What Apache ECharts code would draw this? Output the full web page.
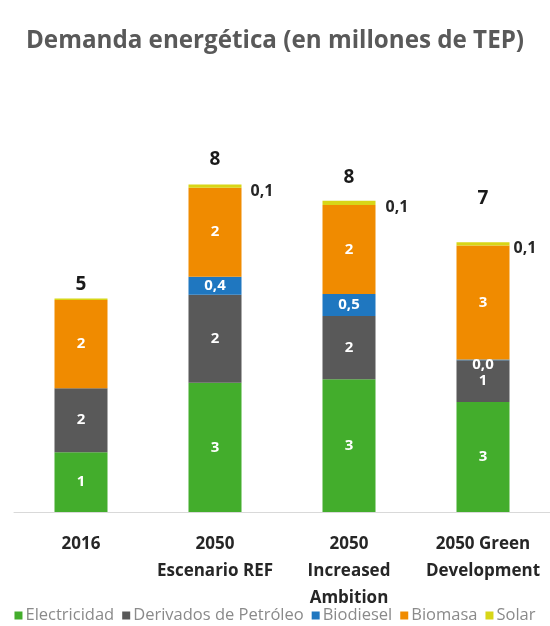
<!DOCTYPE html>
<html>
<head>
<meta charset="utf-8">
<script src="https://cdn.jsdelivr.net/npm/echarts@6/dist/echarts.min.js"></script>
<style>
  html, body { margin: 0; padding: 0; background: #fff; }
  #chart { width: 550px; height: 626px; }
</style>
</head>
<body>
<div id="chart"></div>
<script>
// Energy demand by scenario, millions of TEP
const categories = ['2016', '2050\nEscenario REF', '2050\nIncreased\nAmbition', '2050 Green\nDevelopment'];
const seriesNames = ['Electricidad', 'Derivados de Petróleo', 'Biodiesel', 'Biomasa', 'Solar'];
const electricidad = [1.46, 3.15, 3.24, 2.68];
const derivados = [1.56, 2.15, 1.54, 1.02];
const biodiesel = [0, 0.44, 0.54, 0.02];
const biomasa = [2.15, 2.17, 2.17, 2.78];
const solar = [0.04, 0.08, 0.10, 0.08];

const colors = ['#43ad2c', '#595959', '#1f77c0', '#f08b00', '#d8d617'];
// label nudges (pixels)
const totalLift = [0, 11, 10, 30];
const solarShift = [0, 0, 1, -5];

const font = '"Open Sans", "Noto Sans", sans-serif';
const fmtComma = v => v.toFixed(1).replace('.', ',');

const totals = categories.map((_, i) =>
  electricidad[i] + derivados[i] + biodiesel[i] + biomasa[i] + solar[i]);

function inner(name, values, color, opts) {
  return {
    name, type: 'bar', stack: 'total', barWidth: 53,
    itemStyle: { color },
    data: values.map(v => {
      const item = { value: v };
      if (opts.small && v > 0 && v < 0.1) item.label = { offset: [0, 5] };
      return item;
    }),
    label: {
      show: true, position: 'inside', color: '#fff', fontFamily: font,
      fontWeight: 'bold', fontSize: 15,
      formatter: p => {
        if (p.value <= 0) return '';
        return opts.decimals ? fmtComma(p.value) : String(Math.round(p.value));
      }
    }
  };
}

const chart = echarts.init(document.getElementById('chart'), null, { renderer: 'canvas' });
chart.setOption({
  animation: false,
  title: {
    text: 'Demanda energética (en millones de TEP)', left: 'center', top: 24,
    textStyle: { fontFamily: font, fontWeight: 'bold', fontSize: 24.2, color: '#595959' }
  },
  legend: {
    data: seriesNames, bottom: -3, left: 'center', itemWidth: 8, itemHeight: 8, itemGap: 8,
    icon: 'rect',
    textStyle: { fontFamily: font, fontSize: 16.5, color: '#8a8a8a', padding: [0, 0, 0, -2] }
  },
  grid: { left: 14, width: 539, top: 102, bottom: 114 },
  xAxis: {
    type: 'category', data: categories,
    axisLine: { lineStyle: { color: '#d9d9d9', width: 1 } },
    axisTick: { show: false },
    axisLabel: {
      interval: 0, margin: 19, fontFamily: font, fontWeight: 'bold', fontSize: 17,
      color: '#262626', lineHeight: 27
    }
  },
  yAxis: { type: 'value', min: 0, max: 10, show: false, splitLine: { show: false } },
  series: [
    inner('Electricidad', electricidad, colors[0], {}),
    inner('Derivados de Petróleo', derivados, colors[1], {}),
    inner('Biodiesel', biodiesel, colors[2], { decimals: true, small: true }),
    inner('Biomasa', biomasa, colors[3], {}),
    {
      name: 'Solar', type: 'bar', stack: 'total', barWidth: 53,
      itemStyle: { color: colors[4] },
      data: solar.map((v, i) => ({ value: v, label: { offset: [solarShift[i], 5] } })),
      label: {
        show: true, position: 'right', distance: 9,
        color: '#262626', fontFamily: font, fontWeight: 'bold', fontSize: 16,
        formatter: p => (p.value >= 0.05 ? fmtComma(p.value) : '')
      }
    },
    {
      name: 'Total', type: 'bar', barWidth: 53, barGap: '-100%',
      itemStyle: { color: 'rgba(0,0,0,0)' },
      silent: true, z: 1,
      data: totals.map((t, i) => ({ value: t, label: { offset: [0, -totalLift[i]] } })),
      label: {
        show: true, position: 'top', distance: 4,
        color: '#1a1a1a', fontFamily: font, fontWeight: 'bold', fontSize: 19,
        formatter: p => String(Math.round(p.value))
      }
    }
  ]
});
</script>
</body>
</html>
